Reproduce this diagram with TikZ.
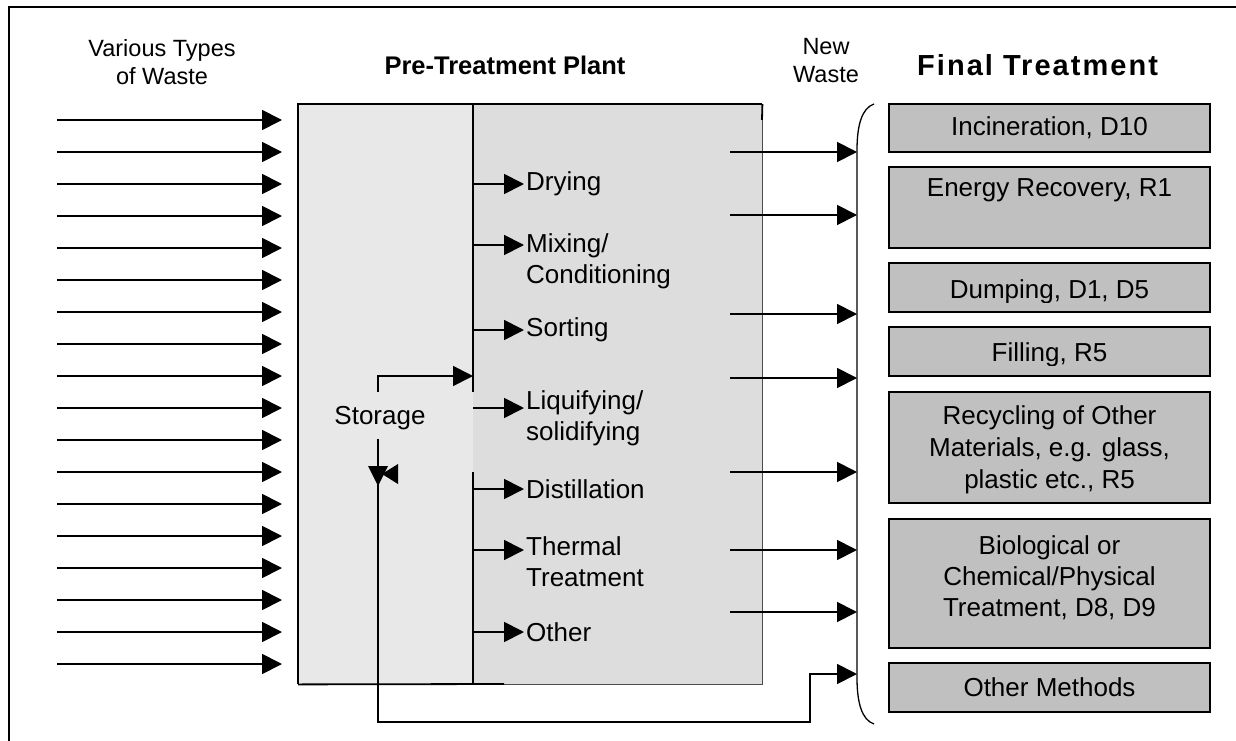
\documentclass[tikz,border=0pt]{standalone}
\usepackage{fontspec}
\setmainfont{Liberation Sans}
\usetikzlibrary{arrows.meta}
\definecolor{leftgray}{HTML}{E8E8E8}
\definecolor{rightgray}{HTML}{DDDDDD}
\definecolor{boxgray}{HTML}{C0C0C0}
\newcommand\fsbody{\fontsize{26}{31}\selectfont}
\newcommand\fssmall{\fontsize{23.5}{28}\selectfont}
\newcommand\fsbold{\bfseries\fontsize{25.5}{30}\selectfont}
\newcommand\fsboldwide{\bfseries\fontsize{29}{33}\selectfont\addfontfeatures{LetterSpace=7}}
\begin{document}
\begin{tikzpicture}[x=1pt,y=-1pt,
  ln/.style={line width=1.8pt},
  arr/.style={line width=1.8pt,-{Triangle[length=20pt,width=20pt]}},
  fbox/.style={draw=black,line width=1.8pt,fill=boxgray,minimum width=321pt,inner sep=0pt},
  btext/.style={font=\fsbody,align=center,inner sep=0pt},
  ptext/.style={font=\fsbody,align=left,inner sep=0pt,anchor=west},
  htext/.style={font=\fssmall,align=center,inner sep=0pt},
  bold/.style={font=\fsbold,inner sep=0pt}]
\useasboundingbox (0,0) rectangle (1236,741);
% outer frame
\draw[line width=1.8pt] (9,745) -- (9,7) -- (1240,7);

% headers
\node[htext] (various) at (162,62) {Various Types\\of Waste};
\node[bold] (pretitle) at (505,65) {Pre-Treatment Plant};
\node[htext] (newwaste) at (826,61) {New\\Waste};
\node[font=\fsboldwide,inner sep=0pt,anchor=west] (finaltitle) at (917,65) {Final Treatment};

% plant box
\node[fill=leftgray,minimum width=175pt,minimum height=580pt,inner sep=0pt,anchor=north west] (storebox) at (298,104) {};
\node[fill=rightgray,minimum width=289pt,minimum height=580pt,inner sep=0pt,anchor=north west] (procbox) at (473,104) {};
\draw[line width=0.8pt,draw=black!70] (procbox.south west) -- (procbox.south east) -- (procbox.north east);
\draw[ln] (storebox.south west) -- (storebox.north west) -- (procbox.north east);
\draw[ln] (storebox.south west) -- (504,684);
\draw[ln] (procbox.north east) -- (762,120);
\draw[ln] (procbox.north west) -- (473,392);
\draw[ln] (473,472) -- (procbox.south west);

% input arrows
\foreach \i in {0,...,17}{
  \coordinate (ins\i) at (57,120+32*\i);
  \coordinate (ine\i) at (282,120+32*\i);
  \draw[arr] (ins\i) -- (ine\i);
}

% storage
\node[font=\fsbody,inner sep=0pt] (storage) at (380,418) {Storage};
\coordinate (stTop) at (378,392);
\coordinate (stUp) at (378,376);
\coordinate (stDiv) at (473,376);
\draw[arr] (stTop) -- (stUp) -- (stDiv);
\coordinate (stBot) at (378,439);
\coordinate (lpA) at (378,722);
\coordinate (lpB) at (810,722);
\coordinate (lpC) at (810,674);
\coordinate (lpD) at (857,674);
\draw[arr] (stBot) -- (lpA) -- (lpB) -- (lpC) -- (lpD);
\fill (368,466) -- (388,466) -- (378,486) -- cycle;
\fill (382,474) -- (398,464) -- (398,484) -- cycle;

% process items
\foreach \y/\nm in {184/p1,245/p2,330/p3,408/p4,489/p5,550/p6,632/p7}{
  \coordinate (\nm s) at (473,\y);
  \coordinate (\nm e) at (524,\y);
  \draw[arr] (\nm s) -- (\nm e);
}
\node[ptext] (drying) at (526,184) {Drying};
\node[ptext] (mixing) at (526,261) {Mixing/\\Conditioning};
\node[ptext] (sorting) at (526,330) {Sorting};
\node[ptext] (liquify) at (526,418) {Liquifying/\\solidifying};
\node[ptext] (distill) at (526,489) {Distillation};
\node[ptext] (thermal) at (526,562) {Thermal\\Treatment};
\node[ptext] (otherp) at (526,632) {Other};

% output arrows
\foreach \y/\nm in {152/o1,215/o2,314/o3,378/o4,472/o5,550/o6,612/o7}{
  \coordinate (\nm s) at (730,\y);
  \coordinate (\nm e) at (857,\y);
  \draw[arr] (\nm s) -- (\nm e);
}

% brace
\draw[line width=1.3pt] (874,104) .. controls (862,108) and (857,125) .. (857,150) -- (857,678) .. controls (857,703) and (862,720) .. (874,724);

% final treatment boxes
\node[fbox,minimum height=48pt] (inc) at (1049.5,128) {};
\node[btext] (inctext) at (inc.center) {Incineration, D10};
\node[fbox,minimum height=81pt] (ene) at (1049.5,207.5) {};
\node[btext] (enetext) at (1049.5,190) {Energy Recovery, R1};
\node[fbox,minimum height=49pt] (dump) at (1049.5,287.5) {};
\begin{scope}
\clip (900,270) rectangle (1200,302);
\node[btext] (dumptext) at (1049.5,292) {Dumping, D1, D5};
\end{scope}
\node[fbox,minimum height=49pt] (fill) at (1049.5,351.5) {};
\begin{scope}
\clip (900,334) rectangle (1200,365);
\node[btext] (filltext) at (1049.5,355) {Filling, R5};
\end{scope}
\node[fbox,minimum height=111pt] (recy) at (1049.5,447.5) {};
\node[btext,font=\fontsize{26}{32}\selectfont] (recytext) at (1049.5,450) {Recycling of Other\\Materials, e.g. glass,\\plastic etc., R5};
\node[fbox,minimum height=129pt] (bio) at (1049.5,583.5) {};
\node[btext,font=\fontsize{26}{31}\selectfont] (biotext) at (1049.5,578) {Biological or\\Chemical/Physical\\Treatment, D8, D9};
\node[fbox,minimum height=49pt] (othm) at (1049.5,687.5) {};
\node[btext] (othmtext) at (othm.center) {Other Methods};
\end{tikzpicture}
\end{document}
